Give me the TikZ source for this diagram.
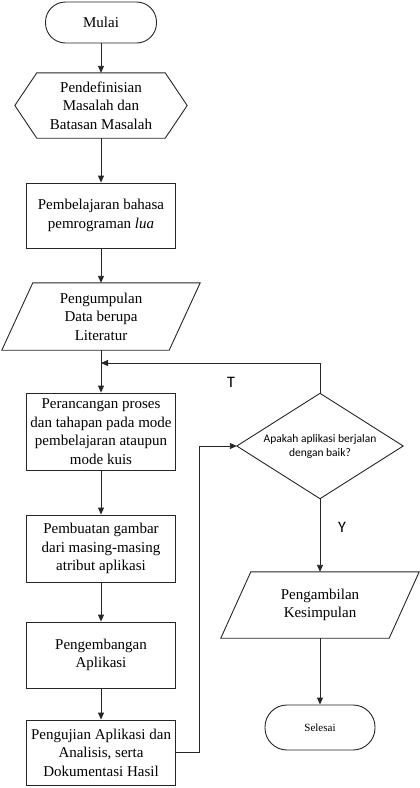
\documentclass[tikz,border=0pt]{standalone}
\usepackage{fontspec}
\setmainfont{Liberation Serif}
\newfontfamily\sanscal{Carlito}
\usetikzlibrary{arrows.meta,shapes.geometric}
\tikzset{
  ln/.style={draw=black!85, line width=0.9pt},
  arr/.style={ln, -{Triangle[length=7pt,width=6pt]}},
  txt/.style={align=center, inner sep=0pt, font=\fontsize{15}{18.5}\selectfont},
  boxx/.style={ln, txt, rectangle, minimum width=149pt},
  ghost/.style={txt, rectangle},
  term/.style={ln, rectangle, align=center, inner sep=0pt},
  lbl/.style={inner sep=0pt, font=\sanscal\fontsize{16}{18}\selectfont}
}
\begin{document}
\begin{tikzpicture}[x=1pt,y=-1pt]
\useasboundingbox (0,0) rectangle (420,788);
% left column
\node[term, rounded corners=20pt, minimum width=111pt, minimum height=41pt,
      font=\fontsize{15}{18}\selectfont] (mulai) at (101,22.5) {Mulai};
\node[ghost, minimum width=172pt, minimum height=65pt] (hex) at (101,105.5)
  {Pendefinisian\\Masalah dan\\Batasan Masalah};
\draw[ln] (hex.west) -- ([xshift=22pt]hex.north west) -- ([xshift=-22pt]hex.north east)
  -- (hex.east) -- ([xshift=-22pt]hex.south east) -- ([xshift=22pt]hex.south west) -- cycle;
\node[boxx, minimum height=65pt] (b1) at (101,215.5) {Pembelajaran bahasa\\pemrograman \textit{lua}};
\node[ghost, minimum width=198pt, minimum height=67pt] (p1) at (101,316.5)
  {Pengumpulan\\Data berupa\\Literatur};
\draw[ln] ([xshift=31pt]p1.north west) -- (p1.north east) -- ([xshift=-31pt]p1.south east)
  -- (p1.south west) -- cycle;
\node[boxx, minimum height=77pt] (b2) at (101,431.5)
  {Perancangan proses\\dan tahapan pada mode\\pembelajaran ataupun\\mode kuis};
\node[boxx, minimum height=67pt] (b3) at (101,548.5)
  {Pembuatan gambar\\dari masing-masing\\atribut aplikasi};
\node[boxx, minimum height=66pt] (b4) at (101,655) {Pengembangan\\Aplikasi};
\node[boxx, minimum height=65pt] (b5) at (101,752.5)
  {Pengujian Aplikasi dan\\Analisis, serta\\Dokumentasi Hasil};
% right column
\node[ghost, minimum width=166pt, minimum height=105pt,
      font=\sanscal\fontsize{11.5}{14}\selectfont] (dec) at (320,446)
  {Apakah aplikasi berjalan\\dengan baik?};
\draw[ln] (dec.west) -- (dec.north) -- (dec.east) -- (dec.south) -- cycle;
\node[ghost, minimum width=198pt, minimum height=66pt] (p2) at (320,605)
  {Pengambilan\\Kesimpulan};
\draw[ln] ([xshift=30pt]p2.north west) -- (p2.north east) -- ([xshift=-30pt]p2.south east)
  -- (p2.south west) -- cycle;
\node[term, rounded corners=22pt, minimum width=110pt, minimum height=45pt,
      font=\fontsize{11}{13}\selectfont] (sel) at (320,727.5) {Selesai};
% labels
\node[lbl] (lt) at (231,382) {T};
\node[lbl] (ly) at (342,527) {Y};
% connectors
\draw[arr] (mulai.south) -- (hex.north);
\draw[arr] (hex.south) -- (b1.north);
\draw[arr] (b1.south) -- (p1.north);
\draw[arr] (p1.south) -- (b2.north);
\draw[arr] (b2.south) -- (b3.north);
\draw[arr] (b3.south) -- (b4.north);
\draw[arr] (b4.south) -- (b5.north);
\coordinate (j) at (101,363);
\draw[arr] (dec.north) |- (j);
\draw[arr] (b5.east) -- ++(23,0) |- (dec.west);
\draw[arr] (dec.south) -- (p2.north);
\draw[arr] (p2.south) -- (sel.north);
\end{tikzpicture}
\end{document}
